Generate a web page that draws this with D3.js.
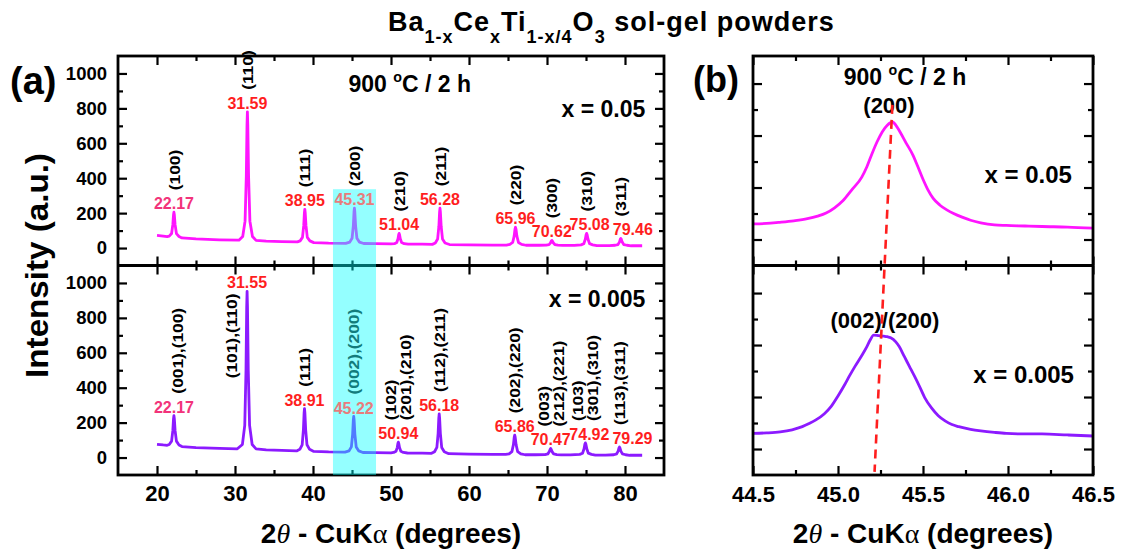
<!DOCTYPE html>
<html>
<head>
<meta charset="utf-8">
<script src="https://cdnjs.cloudflare.com/ajax/libs/d3/7.8.5/d3.min.js"></script>
<style>
    body { margin: 0; background: #fff; }
    svg text { font-family: "Liberation Sans", Arial, sans-serif; font-weight: bold; }
</style>
</head>
<body>
<svg id="chart" width="1121" height="555"></svg>
<script>
// ---- data: panel (a), x = 0.05 scan [2theta, counts]
const scanHigh = [
    [20.0, 72], [20.8, 68], [21.3, 65],
    [21.57, 68], [21.87, 83], [22.03, 134], [22.12, 191], [22.17, 205], [22.22, 191], [22.32, 134], [22.49, 83], [22.82, 66],
    [23.2, 58], [25, 52], [28, 47], [30.5, 45],
    [30.99, 66], [31.29, 154], [31.45, 412], [31.54, 706], [31.59, 780], [31.64, 706], [31.74, 412], [31.91, 154], [32.24, 66],
    [32.7, 44], [34, 40], [36, 37], [38, 35],
    [38.35, 41], [38.65, 61], [38.81, 128], [38.9, 203], [38.95, 222], [39.0, 203], [39.1, 128], [39.27, 61], [39.6, 41],
    [40.1, 31], [42, 28], [44.2, 27],
    [44.71, 34], [45.01, 56], [45.17, 127], [45.26, 208], [45.31, 228], [45.36, 208], [45.46, 127], [45.63, 56], [45.96, 34],
    [46.5, 26], [48, 25], [50, 24],
    [50.44, 25], [50.74, 32], [50.9, 53], [50.99, 78], [51.04, 84], [51.09, 78], [51.19, 53], [51.36, 32], [51.69, 25],
    [52.2, 22], [54, 22], [55.3, 21],
    [55.68, 29], [55.98, 52], [56.14, 125], [56.23, 207], [56.28, 228], [56.33, 207], [56.43, 125], [56.6, 52], [56.93, 29],
    [57.5, 20], [60, 18], [63, 17], [64.8, 17],
    [65.24, 21], [65.6, 32], [65.79, 68], [65.9, 109], [65.96, 119], [66.02, 109], [66.14, 68], [66.34, 32], [66.74, 21],
    [67.3, 16], [69, 16],
    [69.9, 17], [70.26, 20], [70.45, 30], [70.56, 41], [70.62, 44], [70.68, 41], [70.8, 30], [71.0, 20], [71.4, 17],
    [72, 15], [73.5, 15],
    [74.36, 18], [74.72, 25], [74.91, 50], [75.02, 77], [75.08, 84], [75.14, 77], [75.26, 50], [75.46, 25], [75.86, 18],
    [76.4, 14], [78, 14],
    [78.74, 16], [79.1, 20], [79.29, 34], [79.4, 51], [79.46, 55], [79.52, 51], [79.64, 34], [79.84, 20], [80.24, 16],
    [80.8, 13], [82.2, 13]
];

// ---- data: panel (a), x = 0.005 scan
const scanLow = [
    [20.0, 76], [20.8, 72], [21.3, 70],
    [21.57, 75], [21.87, 94], [22.03, 154], [22.12, 223], [22.17, 240], [22.22, 223], [22.32, 154], [22.49, 94], [22.82, 72],
    [23.2, 63], [25, 57], [28, 52], [30.3, 50],
    [30.95, 75], [31.25, 184], [31.41, 500], [31.5, 862], [31.55, 952], [31.6, 862], [31.7, 500], [31.87, 184], [32.2, 75],
    [32.7, 50], [34, 44], [36, 41], [37.9, 38],
    [38.31, 47], [38.61, 73], [38.77, 159], [38.86, 256], [38.91, 280], [38.96, 256], [39.06, 159], [39.23, 73], [39.56, 47],
    [40.1, 35], [42, 32], [44.1, 31],
    [44.62, 38], [44.92, 61], [45.08, 133], [45.17, 215], [45.22, 235], [45.27, 215], [45.37, 133], [45.54, 61], [45.87, 38],
    [46.4, 29], [48, 28], [50, 27],
    [50.34, 29], [50.64, 36], [50.8, 57], [50.89, 82], [50.94, 88], [50.99, 82], [51.09, 57], [51.26, 36], [51.59, 29],
    [52.1, 26], [54, 25], [55.2, 24],
    [55.58, 33], [55.88, 58], [56.04, 137], [56.13, 227], [56.18, 250], [56.23, 227], [56.33, 137], [56.5, 58], [56.83, 33],
    [57.4, 22], [60, 19], [63, 18], [64.7, 18],
    [65.14, 21], [65.5, 34], [65.69, 73], [65.8, 117], [65.86, 128], [65.92, 117], [66.04, 73], [66.24, 34], [66.64, 21],
    [67.2, 16], [68.5, 16],
    [69.75, 17], [70.11, 21], [70.3, 34], [70.41, 48], [70.47, 52], [70.53, 48], [70.65, 34], [70.85, 21], [71.25, 17],
    [71.8, 15], [73, 15],
    [74.2, 18], [74.56, 25], [74.75, 50], [74.86, 77], [74.92, 84], [74.98, 77], [75.1, 50], [75.3, 25], [75.7, 18],
    [76.2, 14], [77.5, 14],
    [78.57, 16], [78.93, 21], [79.12, 37], [79.23, 55], [79.29, 60], [79.35, 55], [79.47, 37], [79.67, 21], [80.07, 16],
    [80.6, 13], [81.5, 13], [82.2, 13]
];

const peaksHigh = [22.17, 31.59, 38.95, 45.31, 51.04, 56.28, 65.96, 70.62, 75.08, 79.46];
const hklHigh = [['(100)'], ['(110)'], ['(111)'], ['(200)'], ['(210)'], ['(211)'],
    ['(220)'], ['(300)'], ['(310)'], ['(311)']];

const peaksLow = [22.17, 31.55, 38.91, 45.22, 50.94, 56.18, 65.86, 70.47, 74.92, 79.29];
const hklLow = [['(001),(100)'], ['(101),(110)'], ['(111)'], ['(002),(200)'],
    ['(102)', '(201),(210)'], ['(112),(211)'], ['(202),(220)'],
    ['(003)', '(212),(221)'], ['(103)', '(301),(310)'], ['(113),(311)']];

// ---- data: panel (b), (200) reflection close-up
const zoomHigh = [
    [44.50, 30], [44.58, 31], [44.65, 33], [44.74, 36], [44.82, 40], [44.88, 45], [44.93, 51],
    [44.98, 61], [45.03, 75], [45.08, 95], [45.14, 120], [45.17, 140], [45.20, 165], [45.23, 188],
    [45.26, 207], [45.29, 220], [45.32, 226], [45.35, 215], [45.37, 204], [45.40, 186], [45.44, 163],
    [45.47, 140], [45.50, 116], [45.53, 95], [45.56, 79], [45.60, 66], [45.64, 57], [45.68, 50],
    [45.73, 43], [45.78, 37], [45.84, 32], [45.92, 28], [45.99, 27], [46.10, 26], [46.20, 25],
    [46.35, 24], [46.50, 22]
];
const zoomLow = [
    [44.50, 30], [44.58, 31], [44.66, 33], [44.73, 37], [44.79, 43], [44.83, 49], [44.87, 56],
    [44.92, 68], [44.96, 82], [45.00, 102], [45.04, 124], [45.07, 142], [45.10, 159], [45.14, 180],
    [45.17, 197], [45.19, 210], [45.21, 219], [45.24, 218], [45.27, 217], [45.29, 216], [45.31, 214],
    [45.34, 206], [45.36, 197], [45.39, 178], [45.42, 159], [45.45, 140], [45.48, 120], [45.51, 99],
    [45.55, 79], [45.59, 64], [45.63, 54], [45.67, 47], [45.71, 43], [45.78, 38], [45.84, 35],
    [45.92, 32], [45.99, 30], [46.10, 29], [46.20, 29], [46.35, 27], [46.50, 25]
];
const shiftLine = [[45.32, 259], [45.215, -44]];   // top end in upper layer, bottom end in lower layer
const bandRange = [42.56, 48.08];
const bandTop = 337;

const xTicksA = [20, 30, 40, 50, 60, 70, 80];
const xMinorA = [25, 35, 45, 55, 65, 75];
const yTicksA = [0, 200, 400, 600, 800, 1000];
const yMinorA = [100, 300, 500, 700, 900];
const xTicksB = [44.5, 45.0, 45.5, 46.0, 46.5];
const xMinorB = [44.75, 45.25, 45.75, 46.25];
const yTicksB = [0, 100, 200, 300];
const yMinorB = [50, 150, 250];

// ---- layout
const top0 = 56, mid = 265.5, bot = 475;
const magenta = '#ff14ff', violet = '#8c1aff', red = '#ff1e1e', pink = '#f2337a';
const layoutHigh = { numDx: [0, 0, 0, 0, 0, 0, 0, 0, 3, 12], hklDx: [], hklDy: [] };
const layoutLow = { numDx: [0, 0, 0, 0, 0, 0, 0, 0, 4, 13], hklDx: [3, -16], hklDy: [0, 109] };

const svg = d3.select('#chart');

const xA = d3.scaleLinear().domain([15, 85]).range([118, 664]);
const yAHigh = d3.scaleLinear().domain([-100, 1100]).range([mid, top0]);
const yALow = d3.scaleLinear().domain([-100, 1100]).range([bot, mid]);
const xB = d3.scaleLinear().domain([44.5, 46.5]).range([753, 1093]);
const yBHigh = d3.scaleLinear().domain([-50, 353]).range([mid, top0]);
const yBLow = d3.scaleLinear().domain([-50, 353]).range([bot, mid]);

const styleAxis = (sel, size) => {
    sel.select('.domain').remove();
    sel.selectAll('line').attr('stroke', '#000').attr('stroke-width', 2.2);
    sel.selectAll('text')
        .attr('fill', '#000')
        .attr('font-size', size);
};

const drawAxes = (x, y, opts) => {
    const [x0, x1] = x.range();
    const [yb, yt] = y.range();

    const add = (axis, transform, size) => svg.append('g')
        .attr('transform', transform)
        .call(axis)
        .call(styleAxis, size);

    // bottom / top, majors then minors, ticks inward
    add(d3.axisBottom(x).tickValues(opts.xMajor).tickSize(-9).tickPadding(opts.xPad)
        .tickFormat(opts.xLabels ? opts.xFormat : ''), `translate(0,${yb})`, opts.xSize);
    add(d3.axisBottom(x).tickValues(opts.xMinor).tickSize(-5).tickFormat(''), `translate(0,${yb})`);
    add(d3.axisTop(x).tickValues(opts.xMajor).tickSize(-9).tickFormat(''), `translate(0,${yt})`);
    add(d3.axisTop(x).tickValues(opts.xMinor).tickSize(-5).tickFormat(''), `translate(0,${yt})`);

    add(d3.axisLeft(y).tickValues(opts.yMajor).tickSize(-9).tickPadding(11)
        .tickFormat(opts.yLabels ? d3.format('d') : ''), `translate(${x0},0)`, 18.5);
    add(d3.axisLeft(y).tickValues(opts.yMinor).tickSize(-5).tickFormat(''), `translate(${x0},0)`);
    add(d3.axisRight(y).tickValues(opts.yMajor).tickSize(-9).tickFormat(''), `translate(${x1},0)`);
    add(d3.axisRight(y).tickValues(opts.yMinor).tickSize(-5).tickFormat(''), `translate(${x1},0)`);
};

const drawScan = (data, x, y, color, curve) => {
    svg.append('path')
        .datum(data)
        .attr('fill', 'none')
        .attr('stroke', color)
        .attr('stroke-width', 2.8)
        .attr('stroke-linejoin', 'round')
        .attr('d', d3.line().x(d => x(d[0])).y(d => y(d[1])).curve(curve));
};

const drawFrame = (x, yHigh, yLow) => {
    const [x0, x1] = x.range();
    svg.append('rect')
        .attr('x', x0).attr('y', yHigh.range()[1])
        .attr('width', x1 - x0).attr('height', yLow.range()[0] - yHigh.range()[1])
        .attr('fill', 'none').attr('stroke', '#000').attr('stroke-width', 2.8);
    svg.append('line')
        .attr('x1', x0).attr('x2', x1).attr('y1', mid).attr('y2', mid)
        .attr('stroke', '#000').attr('stroke-width', 2.8);
};

// ---- panel (a)
drawScan(scanHigh, xA, yAHigh, magenta, d3.curveLinear);
drawScan(scanLow, xA, yALow, violet, d3.curveLinear);

const axisOptsA = {
    xMajor: xTicksA, xMinor: xMinorA, yMajor: yTicksA, yMinor: yMinorA,
    xPad: 10, xSize: 22, xFormat: d3.format('d'), yLabels: true
};
drawAxes(xA, yAHigh, { ...axisOptsA, xLabels: false });
drawAxes(xA, yALow, { ...axisOptsA, xLabels: true });
drawFrame(xA, yAHigh, yALow);

// highlighted (200) region
svg.append('rect')
    .attr('x', xA(bandRange[0]))
    .attr('y', yAHigh(bandTop))
    .attr('width', xA(bandRange[1]) - xA(bandRange[0]))
    .attr('height', bot - yAHigh(bandTop))
    .attr('fill', '#00ffff')
    .attr('opacity', 0.42);

const inBand = p => p > bandRange[0] && p < bandRange[1];

const drawPeakLabels = (scan, peaks, hkls, y, layout) => {
    peaks.forEach((p, i) => {
        const h = scan.find(d => d[0] === p)[1];
        const base = y(h) - 3;
        const band = inBand(p);

        svg.append('text')
            .attr('x', xA(p) + (layout.numDx[i] || 0))
            .attr('y', base)
            .attr('text-anchor', 'middle')
            .attr('font-size', 16)
            .attr('fill', band ? '#e77c7c' : (i === 0 ? pink : red))
            .text(p.toFixed(2));

        const lines = hkls[i];
        const start = base - 19 + (layout.hklDy[i] || 0);
        lines.forEach((t, j) => {
            const lx = xA(p) + (j - (lines.length - 1) / 2) * 15 + (layout.hklDx[i] || 0);
            svg.append('text')
                .attr('transform', `translate(${lx},${start}) rotate(-90) scale(1.12,1)`)
                .attr('dy', '0.36em')
                .attr('font-size', 15.5)
                .attr('fill', band && y === yALow ? '#137c7c' : '#000')
                .text(t);
        });
    });
};

drawPeakLabels(scanHigh, peaksHigh, hklHigh, yAHigh, layoutHigh);
drawPeakLabels(scanLow, peaksLow, hklLow, yALow, layoutLow);

const degText = (x, y, size, anchor) => {
    const t = svg.append('text')
        .attr('x', x).attr('y', y)
        .attr('font-size', size)
        .attr('text-anchor', anchor);
    t.append('tspan').text('900 ');
    t.append('tspan').attr('font-size', size * 0.62).attr('dy', -size * 0.42).text('o');
    t.append('tspan').attr('dy', size * 0.42).text('C / 2 h');
    return t;
};

const plainText = (x, y, size, anchor, str) => svg.append('text')
    .attr('x', x).attr('y', y)
    .attr('font-size', size)
    .attr('text-anchor', anchor)
    .text(str);

degText(xA(52.4), yAHigh(893), 23, 'middle');
plainText(xA(82.6), yAHigh(750), 23, 'end', 'x = 0.05');
plainText(xA(82.6), yALow(862), 23, 'end', 'x = 0.005');

// ---- panel (b)
drawScan(zoomHigh, xB, yBHigh, magenta, d3.curveMonotoneX);
drawScan(zoomLow, xB, yBLow, violet, d3.curveMonotoneX);

const axisOptsB = {
    xMajor: xTicksB, xMinor: xMinorB, yMajor: yTicksB, yMinor: yMinorB,
    xPad: 11, xSize: 22, xFormat: d3.format('.1f'), yLabels: false
};
drawAxes(xB, yBHigh, { ...axisOptsB, xLabels: false });
drawAxes(xB, yBLow, { ...axisOptsB, xLabels: true });
drawFrame(xB, yBHigh, yBLow);

degText(xB(45.394), yBHigh(297), 23, 'middle');
plainText(xB(45.30), yBHigh(243), 22, 'middle', '(200)');
plainText(xB(46.376), yBHigh(109), 24, 'end', 'x = 0.05');
plainText(xB(45.276), yBLow(233), 22, 'middle', '(002)/(200)');
plainText(xB(46.388), yBLow(127), 24, 'end', 'x = 0.005');

svg.append('line')
    .attr('x1', xB(shiftLine[0][0])).attr('y1', yBHigh(shiftLine[0][1]))
    .attr('x2', xB(shiftLine[1][0])).attr('y2', yBLow(shiftLine[1][1]))
    .attr('stroke', red)
    .attr('stroke-width', 2.6)
    .attr('stroke-dasharray', '9,6');

// ---- titles and axis labels
plainText(10, 94, 38, 'start', '(a)');
plainText(693, 92, 36, 'start', '(b)');

const title = svg.append('text')
    .attr('x', 388).attr('y', 31)
    .attr('font-size', 27)
    .attr('letter-spacing', 1);
[['Ba', 0], ['1-x', 1], ['Ce', 0], ['x', 1], ['Ti', 0], ['1-x/4', 1], ['O', 0], ['3', 1], [' sol-gel powders', 0]]
    .forEach(([s, sub], i, arr) => {
        const prevSub = i > 0 && arr[i - 1][1];
        title.append('tspan')
            .attr('font-size', sub ? 18 : 27)
            .attr('dy', sub ? 12 : (prevSub ? -12 : 0))
            .text(s);
    });

svg.append('text')
    .attr('transform', `translate(48,${(top0 + bot) / 2}) rotate(-90) scale(1.07,1)`)
    .attr('text-anchor', 'middle')
    .attr('font-size', 31)
    .text('Intensity (a.u.)');

const axisTitle = cx => {
    const t = svg.append('text')
        .attr('x', cx).attr('y', 543)
        .attr('font-size', 28)
        .attr('text-anchor', 'middle');
    t.append('tspan').text('2');
    t.append('tspan').attr('font-style', 'italic').attr('font-weight', 'normal')
        .style('font-family', '"Liberation Serif", serif').text('θ');
    t.append('tspan').text(' - CuK');
    t.append('tspan').attr('font-weight', 'normal')
        .style('font-family', '"Liberation Serif", serif').text('α');
    t.append('tspan').text(' (degrees)');
};
axisTitle((xA.range()[0] + xA.range()[1]) / 2);
axisTitle((xB.range()[0] + xB.range()[1]) / 2);
</script>
</body>
</html>
